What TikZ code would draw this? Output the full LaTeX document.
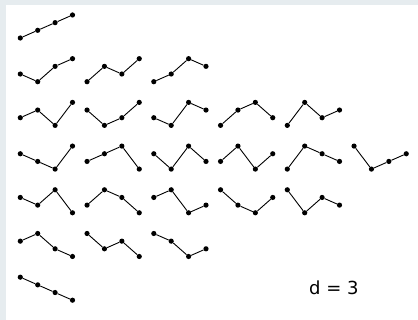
\documentclass[tikz,border=0pt]{standalone}
\usepackage{fontspec}
\usepackage{xcolor}
\usepackage{tikz}
\setsansfont{DejaVu Sans}
\definecolor{framegray}{HTML}{E6ECEF}

\begin{document}
\begin{tikzpicture}[
  x=1pt, y=1pt,
  dot/.style={circle, fill=black, inner sep=0pt, minimum size=5.2pt},
  link/.style={line width=0.9pt}
]
\useasboundingbox (0,0) rectangle (418,320);
\fill[framegray] (0,0) rectangle (418,320);
\fill[white] (6,0) rectangle (418,315);
% one zigzag per permutation: row/column, then the four heights
\foreach \row/\col/\pa/\pb/\pc/\pd in {
    0/0/1/2/3/4,
    1/0/2/1/3/4, 1/1/1/3/2/4, 1/2/1/2/4/3,
    2/0/2/3/1/4, 2/1/3/1/2/4, 2/2/2/1/4/3, 2/3/1/3/4/2, 2/4/1/4/2/3,
    3/0/3/2/1/4, 3/1/2/3/4/1, 3/2/3/1/4/2, 3/3/2/4/1/3, 3/4/1/4/3/2, 3/5/4/1/2/3,
    4/0/3/2/4/1, 4/1/2/4/3/1, 4/2/3/4/1/2, 4/3/4/2/1/3, 4/4/4/1/3/2,
    5/0/3/4/2/1, 5/1/4/2/3/1, 5/2/4/3/1/2,
    6/0/4/3/2/1} {
  \node[dot] (p-\row-\col-1) at (20.3+66.75*\col, 282-43.7*\row+7.67*\pa-7.67) {};
  \node[dot] (p-\row-\col-2) at (37.7+66.75*\col, 282-43.7*\row+7.67*\pb-7.67) {};
  \node[dot] (p-\row-\col-3) at (55.1+66.75*\col, 282-43.7*\row+7.67*\pc-7.67) {};
  \node[dot] (p-\row-\col-4) at (72.5+66.75*\col, 282-43.7*\row+7.67*\pd-7.67) {};
  \draw[link] (p-\row-\col-1) -- (p-\row-\col-2) -- (p-\row-\col-3) -- (p-\row-\col-4);
}
\node[font=\sffamily\fontsize{18}{22}\selectfont, inner sep=0pt, anchor=base west]
  (dlabel) at (309,25.7) {d = 3};
\end{tikzpicture}
\end{document}
